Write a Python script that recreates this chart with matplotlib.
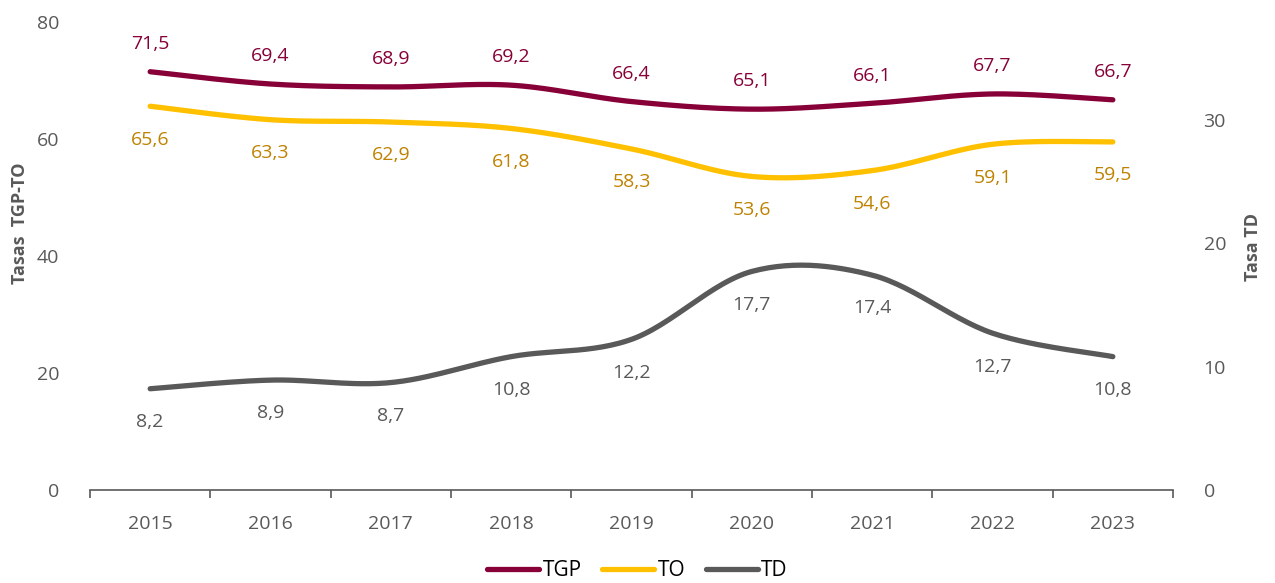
import numpy as np
import matplotlib.pyplot as plt
from matplotlib.lines import Line2D

plt.rcParams['font.family'] = ['Open Sans', 'DejaVu Sans']

years = ["2015", "2016", "2017", "2018", "2019", "2020", "2021", "2022", "2023"]
tgp = [71.5, 69.4, 68.9, 69.2, 66.4, 65.1, 66.1, 67.7, 66.7]
to = [65.6, 63.3, 62.9, 61.8, 58.3, 53.6, 54.6, 59.1, 59.5]
td = [8.2, 8.9, 8.7, 10.8, 12.2, 17.7, 17.4, 12.7, 10.8]

c_tgp = "#870037"
c_to = "#FFC000"
c_to_lab = "#BF8200"
c_td = "#595959"
grey = "#595959"


def smooth(x, y, n=30):
    # Catmull-Rom curve through the points, like Excel's smoothed line
    x = np.asarray(x, float)
    y = np.asarray(y, float)
    px = np.concatenate([[x[0]], x, [x[-1]]])
    py = np.concatenate([[y[0]], y, [y[-1]]])
    xs, ys = [], []
    t = np.linspace(0, 1, n)
    for i in range(1, len(px) - 2):
        for p, out in ((px, xs), (py, ys)):
            p0, p1, p2, p3 = p[i - 1], p[i], p[i + 1], p[i + 2]
            out.extend(0.5 * ((2 * p1) + (-p0 + p2) * t
                              + (2 * p0 - 5 * p1 + 4 * p2 - p3) * t ** 2
                              + (-p0 + 3 * p1 - 3 * p2 + p3) * t ** 3))
    return np.array(xs), np.array(ys)


fig = plt.figure(figsize=(12.75, 5.83), dpi=100)
ax = fig.add_axes([90 / 1275, 1 - 490 / 583, (1173 - 90) / 1275, 468 / 583])
ax2 = ax.twinx()

x = np.arange(len(years))
lw = 3.8
fs = 14

sx, sy = smooth(x, tgp)
ax.plot(sx, sy, color=c_tgp, lw=lw, solid_capstyle="round", zorder=3)
sx, sy = smooth(x, to)
ax.plot(sx, sy, color=c_to, lw=lw, solid_capstyle="round", zorder=3)
sx, sy = smooth(x, td)
ax2.plot(sx, sy, color=c_td, lw=lw, solid_capstyle="round", zorder=3)

for i in range(len(years)):
    ax.annotate(f"{tgp[i]:.1f}".replace(".", ","), (x[i], tgp[i]), xytext=(0, 20),
                textcoords="offset points", ha="center", va="center", fontsize=fs, color=c_tgp)
    ax.annotate(f"{to[i]:.1f}".replace(".", ","), (x[i], to[i]), xytext=(0, -24),
                textcoords="offset points", ha="center", va="center", fontsize=fs, color=c_to_lab)
    ax2.annotate(f"{td[i]:.1f}".replace(".", ","), (x[i], td[i]), xytext=(0, -24),
                 textcoords="offset points", ha="center", va="center", fontsize=fs, color=c_td)

ax.set_xlim(-0.5, len(years) - 0.5)
ax.set_ylim(0, 80)
ax2.set_ylim(0, 37.9)
ax.set_yticks([0, 20, 40, 60, 80])
ax2.set_yticks([0, 10, 20, 30])

ax.set_xticks(x)
ax.set_xticklabels(years)
ax.set_xticks(np.arange(-0.5, len(years)), minor=True)
ax.tick_params(axis="x", which="major", length=0, pad=18, labelsize=fs, labelcolor=grey)
ax.tick_params(axis="x", which="minor", length=6, width=1.2, color=grey, direction="out")
ax.tick_params(axis="y", length=0, pad=22, labelsize=fs, labelcolor=grey)
ax2.tick_params(axis="y", length=0, pad=22, labelsize=fs, labelcolor=grey)

for a in (ax, ax2):
    for s in ("top", "left", "right", "bottom"):
        a.spines[s].set_visible(False)
ax.spines["bottom"].set_visible(True)
ax.spines["bottom"].set_color(grey)
ax.spines["bottom"].set_linewidth(1.2)

fig.text(20 / 1275, 1 - 223 / 583, "Tasas  TGP-TO", rotation=90, ha="center", va="center",
         fontsize=13, fontweight="bold", color=grey)
fig.text(1253 / 1275, 1 - 247 / 583, "Tasa TD", rotation=90, ha="center", va="center",
         fontsize=13, fontweight="bold", color=grey)

handles = [Line2D([], [], color=c, lw=lw, solid_capstyle="round") for c in (c_tgp, c_to, c_td)]
fig.legend(handles, ["TGP", "TO", "TD"], loc="center", bbox_to_anchor=(0.5, 1 - 571 / 583),
           ncol=3, frameon=False, fontsize=15, handlelength=2.5, handletextpad=0.15,
           columnspacing=1.0)

fig.savefig("out.png", dpi=100)
